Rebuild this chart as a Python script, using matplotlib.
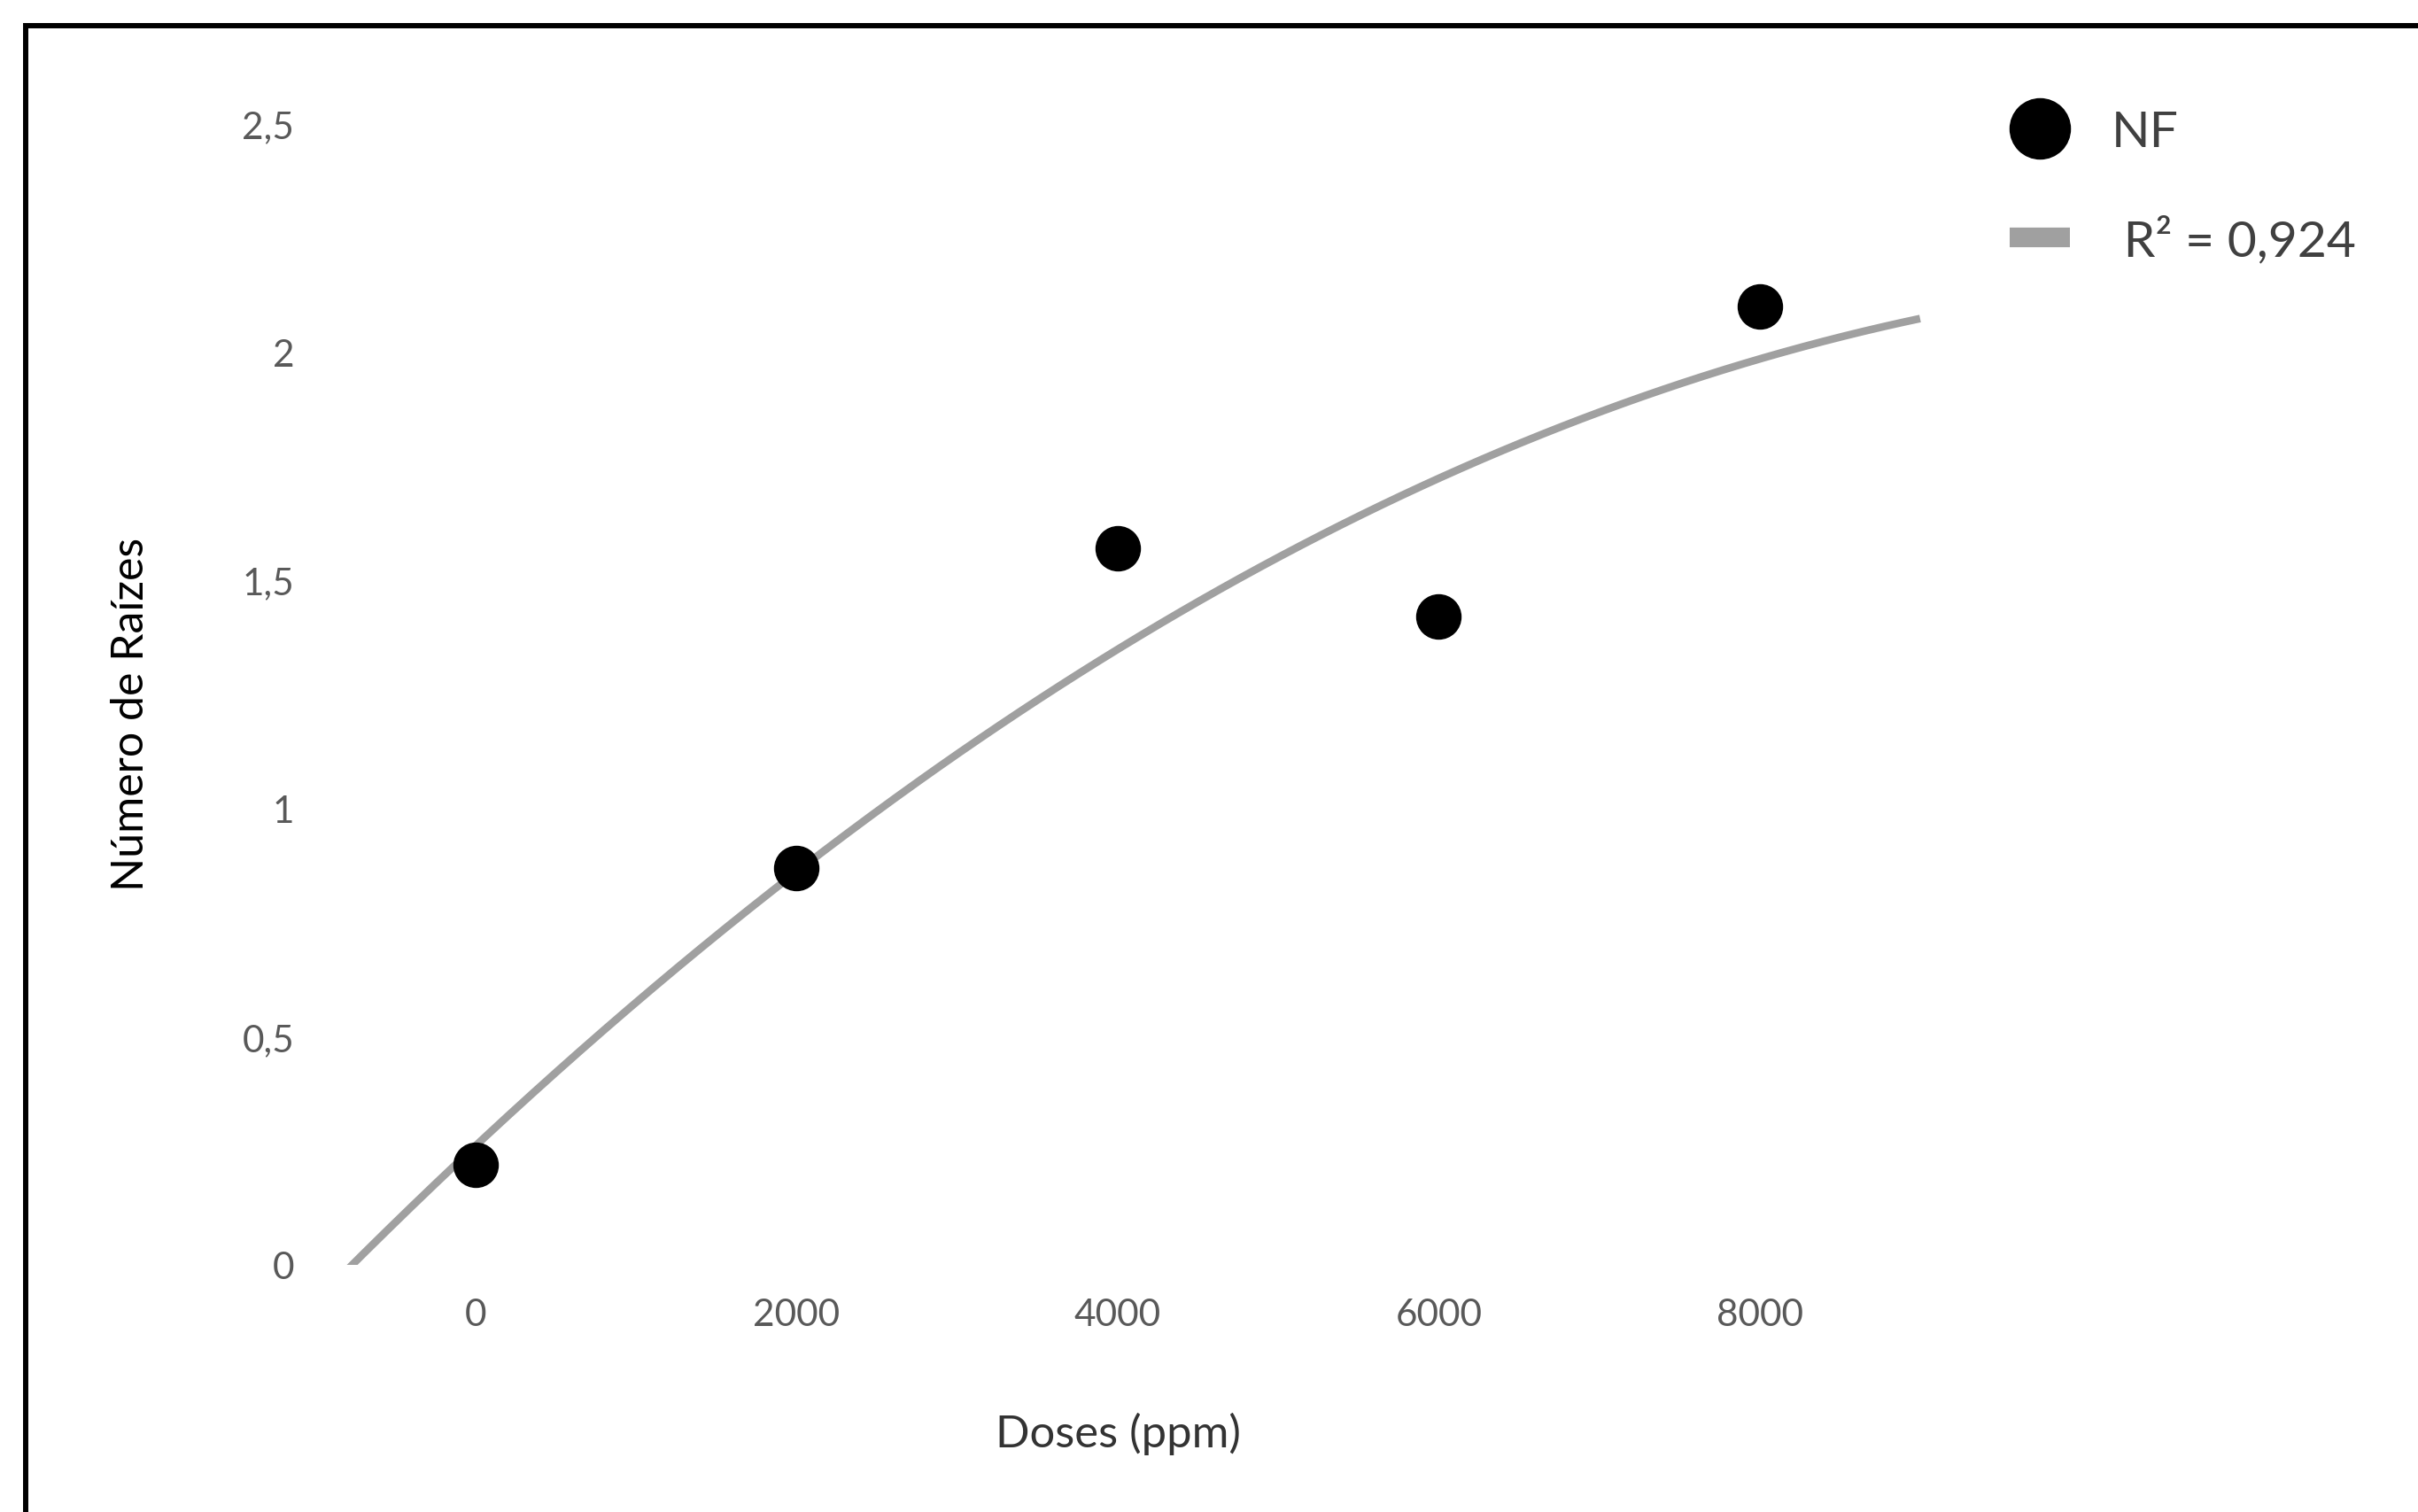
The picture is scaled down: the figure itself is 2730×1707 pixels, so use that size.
import numpy as np
import matplotlib
matplotlib.use("Agg")
import matplotlib.pyplot as plt
from matplotlib.lines import Line2D
from matplotlib.patches import Rectangle

# Data
doses = [0, 2000, 4000, 6000, 8000]
raizes = [0.22, 0.87, 1.57, 1.42, 2.10]
x_ticks = [0, 2000, 4000, 6000, 8000]
x_tick_labels = ["0", "2000", "4000", "6000", "8000"]
y_ticks = [0, 0.5, 1, 1.5, 2, 2.5]
y_tick_labels = ["0", "0,5", "1", "1,5", "2", "2,5"]
series_label = "NF"
trend_label = " R² = 0,924"
x_label = "Doses (ppm)"
y_label = "Número de Raízes"

plt.rcParams['font.family'] = ['Lato', 'DejaVu Sans']

W, H = 2730, 1708
fig = plt.figure(figsize=(W / 100, H / 100), dpi=100)
fig.patch.set_facecolor("white")

def fx(px):
    return px / W

def fy(py):
    return 1 - py / H

ax = fig.add_axes([fx(374), fy(1429), fx(2186) - fx(374), fy(141) - fy(1429)])
ax.set_xlim(-900, 9100)
ax.set_ylim(0, 2.5)

# quadratic trendline (least squares, extended 1000 both sides)
coef = np.polyfit(doses, raizes, 2)
xt = np.linspace(-1000, 9000, 400)
yt = np.polyval(coef, xt)
ax.plot(xt, yt, color="#a0a0a0", lw=6.2, solid_capstyle="butt", zorder=2)

ax.plot(doses, raizes, linestyle="none", marker="o", markersize=36,
        color="black", zorder=3, clip_on=False)

for s in ax.spines.values():
    s.set_visible(False)
ax.set_xticks(x_ticks)
ax.set_xticklabels(x_tick_labels)
ax.set_yticks(y_ticks)
ax.set_yticklabels(y_tick_labels)
ax.tick_params(axis="both", length=0, labelsize=30.5, labelcolor="#595959")
ax.tick_params(axis="x", pad=27)
ax.tick_params(axis="y", pad=30)

fig.text(fx(1262), fy(1619), x_label, ha="center", va="center",
         fontsize=36.5, color="#333333")
fig.text(fx(148), fy(806), y_label, ha="center", va="center",
         rotation=90, fontsize=36, color="black")

handles = [
    Line2D([], [], linestyle="none", marker="o", markersize=49, color="black"),
    Line2D([], [], color="#a0a0a0", lw=16, solid_capstyle="butt"),
]
leg = fig.legend(handles, [series_label, trend_label], loc="upper left",
                 bbox_to_anchor=(fx(2269), fy(125)), frameon=False,
                 fontsize=41, handlelength=1.19, handletextpad=0.82,
                 labelspacing=1.2, borderpad=0, borderaxespad=0)
for t in leg.get_texts():
    t.set_color("#404040")

# outer frame (left and top edges visible)
fig.add_artist(Rectangle((fx(29), -0.5), 2.0, fy(30) + 0.5,
                         transform=fig.transFigure, fill=False,
                         edgecolor="black", lw=4.3))

fig.savefig("out.png", dpi=100, facecolor="white")
